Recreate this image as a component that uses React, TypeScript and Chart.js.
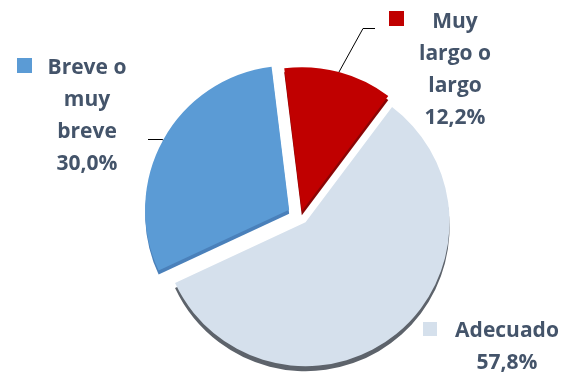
import React, { useEffect, useRef } from 'react';
import { Chart, registerables } from 'chart.js';

Chart.register(...registerables);

// ---- data ----
const categories: string[][] = [
  ['Muy', 'largo o', 'largo'],
  ['Adecuado'],
  ['Breve o', 'muy', 'breve'],
];
const values: number[] = [12.2, 57.8, 30.0];

// ---- styles ----
const sliceColors = ['#c00000', '#d5e0ec', '#5b9bd5'];
const sideColors = ['#8a0505', '#5d636b', '#4a80ba'];
const explode = [5, 8, 13];
const sideDepth = [4, 5, 4];
const textColor = '#44546a';
const fontSpec = 'bold 21px "Open Sans"';
const lineHeight = 32;

type Layout = {
  cx: number;
  y0: number;
  sq: [number, number, number];
  leader: [number, number][] | null;
};
const labelLayout: Layout[] = [
  { cx: 455, y0: 28, sq: [389, 11, 15], leader: [[363, 28], [375, 28]] },
  { cx: 507, y0: 337, sq: [423, 322, 14], leader: null },
  { cx: 87, y0: 74, sq: [17, 58, 15], leader: [[162, 139], [148, 139]] },
];

const fmt = (v: number) => v.toFixed(1).replace('.', ',') + '%';

const piePlugin = {
  id: 'explodedPie',
  beforeDatasetsDraw(chart: any) {
    const ctx: CanvasRenderingContext2D = chart.ctx;
    const arcs = chart.getDatasetMeta(0).data;
    arcs.forEach((arc: any, i: number) => {
      const { x, y, startAngle, endAngle, outerRadius } = arc.getProps(
        ['x', 'y', 'startAngle', 'endAngle', 'outerRadius'],
        true
      );
      const mid = (startAngle + endAngle) / 2;
      const cx = x + Math.cos(mid) * explode[i];
      const cy = y + Math.sin(mid) * explode[i] + sideDepth[i];
      ctx.save();
      ctx.fillStyle = sideColors[i];
      ctx.beginPath();
      ctx.moveTo(cx, cy);
      ctx.arc(cx, cy, outerRadius, startAngle, endAngle);
      ctx.closePath();
      ctx.fill();
      ctx.restore();
    });
    arcs.forEach((arc: any, i: number) => {
      const { startAngle, endAngle } = arc.getProps(['startAngle', 'endAngle'], true);
      const mid = (startAngle + endAngle) / 2;
      ctx.save();
      ctx.translate(Math.cos(mid) * explode[i], Math.sin(mid) * explode[i]);
      arc.draw(ctx);
      ctx.restore();
    });
    return false;
  },
  afterDraw(chart: any) {
    const ctx: CanvasRenderingContext2D = chart.ctx;
    const arcs = chart.getDatasetMeta(0).data;
    arcs.forEach((arc: any, i: number) => {
      const L = labelLayout[i];
      const { x, y, startAngle, endAngle, outerRadius } = arc.getProps(
        ['x', 'y', 'startAngle', 'endAngle', 'outerRadius'],
        true
      );
      const mid = (startAngle + endAngle) / 2;
      ctx.save();
      if (L.leader) {
        const sx = x + Math.cos(mid) * (explode[i] + outerRadius);
        const sy = y + Math.sin(mid) * (explode[i] + outerRadius);
        ctx.strokeStyle = '#000000';
        ctx.lineWidth = 1;
        ctx.beginPath();
        ctx.moveTo(sx, sy);
        L.leader.forEach(([px, py]) => ctx.lineTo(px, py + 0.5));
        ctx.stroke();
      }
      ctx.fillStyle = sliceColors[i];
      ctx.fillRect(L.sq[0], L.sq[1], L.sq[2], L.sq[2]);
      ctx.fillStyle = textColor;
      ctx.font = fontSpec;
      ctx.textAlign = 'center';
      ctx.textBaseline = 'alphabetic';
      const lines = [...categories[i], fmt(values[i])];
      lines.forEach((t, k) => ctx.fillText(t, L.cx, L.y0 + k * lineHeight));
      ctx.restore();
    });
  },
};

export default function App() {
  const ref = useRef<HTMLCanvasElement | null>(null);
  useEffect(() => {
    if (!ref.current) return;
    const chart = new Chart(ref.current, {
      type: 'pie',
      data: {
        labels: categories.map((c) => c.join(' ')),
        datasets: [
          {
            data: values,
            backgroundColor: sliceColors,
            borderWidth: 0,
            offset: 0,
          },
        ],
      },
      options: {
        responsive: false,
        animation: false,
        rotation: -7,
        radius: 144,
        layout: { padding: { left: 37, right: 0, top: 56, bottom: 0 } },
        plugins: {
          legend: { display: false },
          tooltip: { enabled: false },
        },
        events: [],
      },
      plugins: [piePlugin],
    });
    return () => chart.destroy();
  }, []);
  return (
    <div style={{ position: 'fixed', left: 0, top: 0, width: 564, height: 376, background: '#ffffff' }}>
      <canvas ref={ref} width={564} height={376} />
    </div>
  );
}
